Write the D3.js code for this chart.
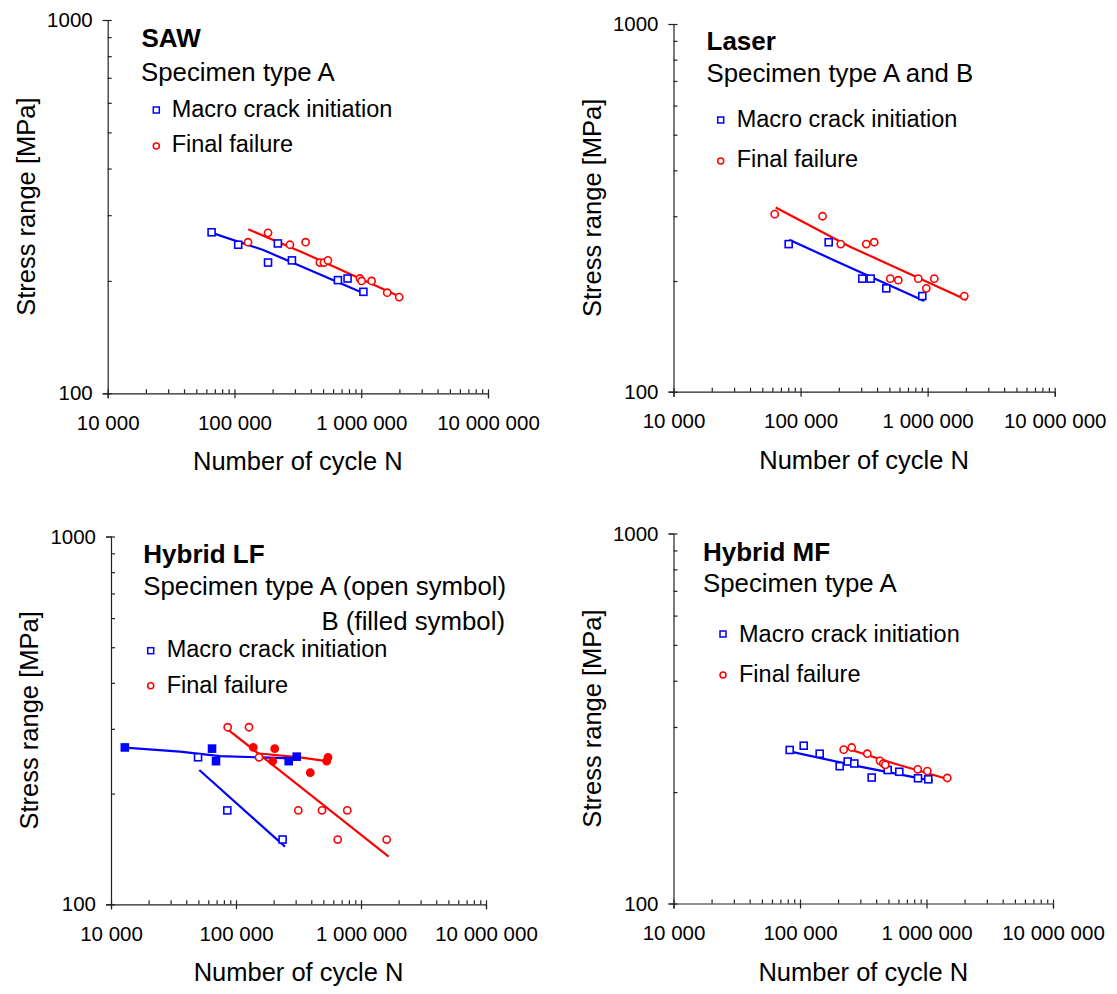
<!DOCTYPE html>
<html>
<head>
<meta charset="utf-8">
<script src="https://cdn.jsdelivr.net/npm/d3@7"></script>
<style>
  body { margin: 0; background: #fff; }
  svg { display: block; font-family: "Liberation Sans", Arial, sans-serif; }
</style>
</head>
<body>
<svg id="chart" width="1117" height="994"></svg>
<script>
// ---------------- DATA ----------------
const xTickValues = [1e4, 1e5, 1e6, 1e7];
const xTickLabels = ["10 000", "100 000", "1 000 000", "10 000 000"];
const xMinorValues = [2e4,3e4,4e4,5e4,6e4,7e4,8e4,9e4,2e5,3e5,4e5,5e5,6e5,7e5,8e5,9e5,2e6,3e6,4e6,5e6,6e6,7e6,8e6,9e6];
const yTickValues = [100, 1000];
const yTickLabels = ["100", "1000"];
const yMinorValues = [200, 300, 400, 500, 600, 700, 800, 900];

const xTitle = "Number of cycle N";
const yTitle = "Stress range [MPa]";
const legendCrack = "Macro crack initiation";
const legendFailure = "Final failure";

// SAW
const sawCrack = [[66000,270],[107000,250],[220000,252],[184000,224],[284000,227],[655000,201],[780000,203],[1040000,187]];
const sawFailure = [[128000,254],[184000,269],[274000,250],[364000,254],[472000,224],[508000,224],[546000,227],[977000,203],[1007000,200],[1208000,200],[1603000,186],[1994000,181]];
const sawCrackFit = [[66450,269],[168700,242],[1056000,185]];
const sawFailureFit = [[128500,275],[348900,238],[2045000,181]];

// Laser
const laserCrack = [[80600,252],[166500,255],[306000,203],[356000,203],[473000,191],[908000,182]];
const laserFailure = [[62600,304],[149000,300],[207000,252],[329000,252],[380000,255],[508000,203],[588000,201],[844000,203],[976000,191],[1128000,203],[1943000,182]];
const laserCrackFit = [[81500,259],[192500,226],[941300,176.5]];
const laserFailureFit = [[63700,317],[244900,248],[2030000,177.6]];

// Hybrid LF (A = open, B = filled)
const lfCrackA = [[49700,251],[85200,180],[236000,150]];
const lfCrackB = [[12900,267],[64300,265],[69200,245],[264000,245],[306000,252]];
const lfFailureA = [[85800,303],[127100,303],[152800,251],[315100,180],[487500,180],[776900,180],[651100,150],[1605000,150]];
const lfFailureB = [[137500,267],[204000,265],[196600,245],[392900,228],[544500,251],[531600,245]];
const lfCrackFitA = [[50860,231.8],[246600,143.5]];
const lfCrackFitB = [[12940,266.6],[35650,260.1],[74470,253],[315100,248.8]];
const lfFailureFitA = [[85800,299],[1665000,134.8]];
const lfFailureFitB = [[146400,257.4],[325100,250.9],[564900,244.2]];

// Hybrid MF
const mfCrack = [[82900,260],[107000,267],[143100,254],[206000,235],[238300,242],[268700,239],[368800,219],[493600,229.5],[609500,227],[856700,218],[1033000,216.6]];
const mfFailure = [[221500,260.5],[256300,264],[340400,254],[429000,243],[455500,239],[472400,237],[852000,230.5],[1015000,228],[1460000,218.4]];
const mfCrackFit = [[84400,257.3],[298100,234.3],[1119000,214.4]];
const mfFailureFit = [[231000,262.8],[546500,239.3],[1487000,216.6]];

// ---------------- DRAW ----------------
const BLUE = "#0000ff", RED = "#ff0000", AXIS = "#222";
const svg = d3.select("#chart");
const fmt = v => xTickLabels[xTickValues.indexOf(v)];

function panel(box, title, subLines, legendPos, series, fits) {
  const x = d3.scaleLog().domain([1e4, 1e7]).range([box.x0, box.x1]);
  const y = d3.scaleLog().domain([100, 1000]).range([box.y1, box.y0]);
  const g = svg.append("g");

  const ya = g.append("g").attr("transform", `translate(${box.x0},0)`)
    .call(d3.axisLeft(y).tickValues(yTickValues).tickSize(5).tickPadding(10)
      .tickFormat(v => yTickLabels[yTickValues.indexOf(v)]));
  const yi = g.append("g").attr("transform", `translate(${box.x0},0)`)
    .call(d3.axisRight(y).tickValues(yMinorValues.concat(yTickValues)).tickSize(4).tickFormat(""));
  const xa = g.append("g").attr("transform", `translate(0,${box.y1})`)
    .call(d3.axisBottom(x).tickValues(xTickValues).tickSize(5).tickPadding(17).tickFormat(fmt));
  const xi = g.append("g").attr("transform", `translate(0,${box.y1})`)
    .call(d3.axisTop(x).tickValues(xMinorValues.concat(xTickValues)).tickSize(4).tickFormat(""));
  [ya, yi, xa, xi].forEach(a => {
    a.select(".domain").attr("stroke", AXIS).attr("stroke-width", 1.2);
    a.selectAll(".tick line").attr("stroke", AXIS).attr("stroke-width", 1.2);
    a.selectAll(".tick text").attr("fill", "#000").attr("font-size", 20.5)
      .attr("font-family", "Liberation Sans, Arial, sans-serif");
  });
  yi.select(".domain").remove();
  xi.select(".domain").remove();

  g.append("text").attr("x", (box.x0 + box.x1) / 2).attr("y", box.y1 + 77)
    .attr("text-anchor", "middle").attr("font-size", 25.5).text(xTitle);
  g.append("text").attr("transform", `translate(${box.x0 - 73},${(box.y0 + box.y1) / 2}) rotate(-90)`)
    .attr("text-anchor", "middle").attr("font-size", 25.5).text(yTitle);

  const line = d3.line().x(d => x(d[0])).y(d => y(d[1]));
  fits.forEach(f => {
    g.append("path").datum(f.data).attr("d", line).attr("fill", "none")
      .attr("stroke", f.color).attr("stroke-width", 2.2);
  });

  series.forEach(s => {
    const sel = g.append("g").selectAll("x").data(s.data).enter();
    if (s.shape === "square") {
      sel.append("rect").attr("x", d => x(d[0]) - 3.5).attr("y", d => y(d[1]) - 3.5)
        .attr("width", 7).attr("height", 7)
        .attr("fill", s.filled ? s.color : "#fff").attr("stroke", s.color).attr("stroke-width", 1.6);
    } else {
      sel.append("circle").attr("cx", d => x(d[0])).attr("cy", d => y(d[1])).attr("r", 3.6)
        .attr("fill", s.filled ? s.color : "#fff").attr("stroke", s.color).attr("stroke-width", 1.6);
    }
  });

  g.append("text").attr("x", title.x).attr("y", title.y).attr("font-size", 26)
    .attr("font-weight", "bold").text(title.text);
  subLines.forEach(t => {
    g.append("text").attr("x", t.x).attr("y", t.y).attr("font-size", 25.8)
      .attr("text-anchor", t.anchor || "start").text(t.text);
  });
  const L = legendPos;
  g.append("rect").attr("x", L.mx - 3).attr("y", L.y1 - 3).attr("width", 6).attr("height", 6)
    .attr("fill", "#fff").attr("stroke", BLUE).attr("stroke-width", 1.5);
  g.append("text").attr("x", L.tx).attr("y", L.b1).attr("font-size", 23.5).text(legendCrack);
  g.append("circle").attr("cx", L.mx).attr("cy", L.y2).attr("r", 3)
    .attr("fill", "#fff").attr("stroke", RED).attr("stroke-width", 1.5);
  g.append("text").attr("x", L.tx).attr("y", L.b2).attr("font-size", 23.5).text(legendFailure);
}

panel({x0:107.7, x1:488, y0:20, y1:393.3},
  {x:141.5, y:46.5, text:"SAW"},
  [{x:141, y:81, text:"Specimen type A"}],
  {mx:156.3, y1:110, tx:171.7, b1:116.7, y2:146, b2:152},
  [{data:sawCrack, shape:"square", color:BLUE}, {data:sawFailure, shape:"circle", color:RED}],
  [{data:sawCrackFit, color:BLUE}, {data:sawFailureFit, color:RED}]);

panel({x0:673.5, x1:1054.7, y0:24, y1:391.7},
  {x:706.5, y:50, text:"Laser"},
  [{x:706.5, y:82, text:"Specimen type A and B"}],
  {mx:720.7, y1:120, tx:736.7, b1:127, y2:161, b2:167},
  [{data:laserCrack, shape:"square", color:BLUE}, {data:laserFailure, shape:"circle", color:RED}],
  [{data:laserCrackFit, color:BLUE}, {data:laserFailureFit, color:RED}]);

panel({x0:111, x1:486, y0:536.5, y1:904.3},
  {x:143.3, y:563.3, text:"Hybrid LF"},
  [{x:143.3, y:595, text:"Specimen type A (open symbol)"},
   {x:505, y:630, text:"B (filled symbol)", anchor:"end"}],
  {mx:150.7, y1:650.7, tx:166.7, b1:657, y2:685.7, b2:693.3},
  [{data:lfCrackA, shape:"square", color:BLUE}, {data:lfCrackB, shape:"square", color:BLUE, filled:true},
   {data:lfFailureA, shape:"circle", color:RED}, {data:lfFailureB, shape:"circle", color:RED, filled:true}],
  [{data:lfCrackFitB, color:BLUE}, {data:lfCrackFitA, color:BLUE},
   {data:lfFailureFitA, color:RED}, {data:lfFailureFitB, color:RED}]);

panel({x0:673.5, x1:1053, y0:533.5, y1:903.5},
  {x:703, y:561, text:"Hybrid MF"},
  [{x:703, y:592, text:"Specimen type A"}],
  {mx:723, y1:634, tx:739, b1:642, y2:675, b2:682},
  [{data:mfCrack, shape:"square", color:BLUE}, {data:mfFailure, shape:"circle", color:RED}],
  [{data:mfCrackFit, color:BLUE}, {data:mfFailureFit, color:RED}]);
</script>
</body>
</html>
